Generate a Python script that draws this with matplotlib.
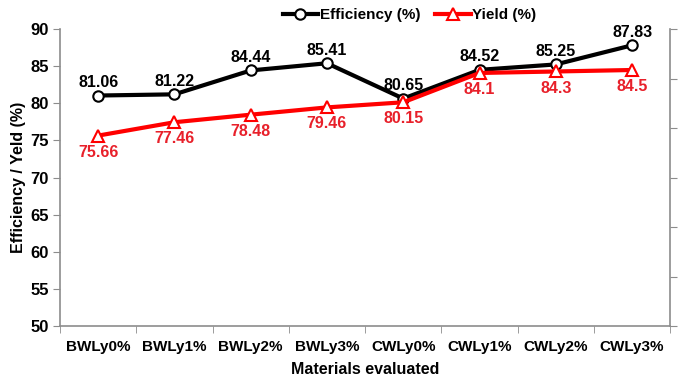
import matplotlib
matplotlib.use("Agg")
import matplotlib.pyplot as plt
import numpy as np

plt.rcParams['font.family'] = ['Liberation Sans', 'DejaVu Sans']
plt.rcParams['font.weight'] = 'bold'

# data
materials = ["BWLy0%", "BWLy1%", "BWLy2%", "BWLy3%",
             "CWLy0%", "CWLy1%", "CWLy2%", "CWLy3%"]
efficiency = [81.06, 81.22, 84.44, 85.41, 80.65, 84.52, 85.25, 87.83]
yield_pct = [75.66, 77.46, 78.48, 79.46, 80.15, 84.1, 84.3, 84.5]
eff_labels = ["81.06", "81.22", "84.44", "85.41", "80.65", "84.52", "85.25", "87.83"]
yld_labels = ["75.66", "77.46", "78.48", "79.46", "80.15", "84.1", "84.3", "84.5"]

fig = plt.figure(figsize=(6.86, 3.84), dpi=100)
ax = fig.add_axes([0.0875, 0.151, 0.8895, 0.773])

x = np.arange(len(materials))
axis_grey = "#8c8c8c"

ax.plot(x, efficiency, color="black", lw=3, marker="o", ms=7.5,
        mfc="white", mec="black", mew=1.5, label="Efficiency (%)", zorder=3)
ax.plot(x, yield_pct, color="#ff0000", lw=3, marker="^", ms=8,
        mfc="white", mec="#ff0000", mew=1.5, label="Yield (%)", zorder=4)

for xi, v, t in zip(x, efficiency, eff_labels):
    ax.annotate(t, (xi, v), xytext=(0, 4), textcoords="offset points",
                ha="center", va="bottom", fontsize=11.5, fontweight="bold",
                color="black")
for xi, v, t in zip(x, yield_pct, yld_labels):
    ax.annotate(t, (xi, v), xytext=(0, -6.5), textcoords="offset points",
                ha="center", va="top", fontsize=11.5, fontweight="bold",
                color="#e8202a")

ax.set_xlim(-0.5, len(materials) - 0.5)
ax.set_ylim(50, 90)
ax.set_yticks(np.arange(50, 91, 5))
ax.set_xticks(x)
ax.set_xticklabels(materials)
# category boundaries get the tick marks
ax.set_xticks(np.arange(-0.5, len(materials), 1), minor=True)
ax.tick_params(axis="x", which="major", length=0, pad=10, labelsize=11)
ax.tick_params(axis="x", which="minor", length=5, color=axis_grey, direction="out")
ax.tick_params(axis="y", length=5, color=axis_grey, direction="out", labelsize=12, pad=3)

for side in ["top", "right"]:
    ax.spines[side].set_visible(False)
for side in ["left", "bottom"]:
    ax.spines[side].set_color(axis_grey)
    ax.spines[side].set_linewidth(1.2)

ax.set_xlabel("Materials evaluated", fontsize=11.5, fontweight="bold", labelpad=6)
ax.set_ylabel("Efficiency / Yeld (%)", fontsize=11.5, fontweight="bold", labelpad=3)

# empty secondary axis on the right, as in the original
ax2 = ax.twinx()
ax2.set_ylim(0, 6)
ax2.set_yticks(np.arange(0, 7, 1))
ax2.set_yticklabels([])
ax2.tick_params(axis="y", length=5, color=axis_grey, direction="out")
for side in ["top", "left", "bottom"]:
    ax2.spines[side].set_visible(False)
ax2.spines["right"].set_color(axis_grey)
ax2.spines["right"].set_linewidth(1.2)

fig.legend(loc="center", bbox_to_anchor=(0.597, 0.96), ncol=2, frameon=False,
           handlelength=2.3, handletextpad=0.1, columnspacing=1.0,
           prop={"weight": "bold", "size": 11})

fig.savefig("out.png", dpi=100)
